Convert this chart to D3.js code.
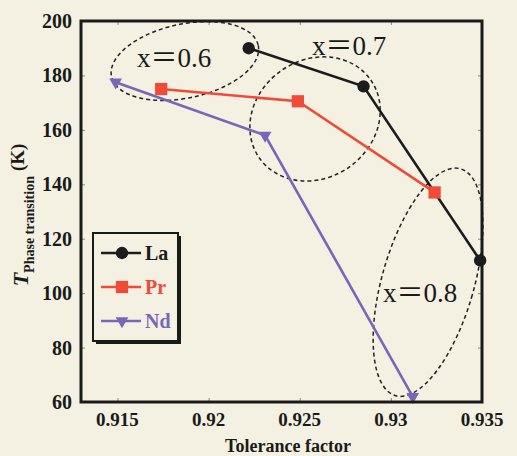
<!DOCTYPE html>
<html><head><meta charset="utf-8">
<script src="https://cdn.jsdelivr.net/npm/d3@7"></script>
<style>body{margin:0;background:#f4f0e2;}svg{display:block;}</style>
</head><body>
<script>
const xTicks = [0.915, 0.92, 0.925, 0.93, 0.935];
const xTickLabels = ["0.915", "0.92", "0.925", "0.93", "0.935"];
const yTicks = [60, 80, 100, 120, 140, 160, 180, 200];
const laX = [0.9222, 0.9285, 0.9349];
const laY = [190, 176, 112];
const prX = [0.9174, 0.9249, 0.9324];
const prY = [175, 170.5, 137];
const ndX = [0.9149, 0.9231, 0.9312];
const ndY = [177.5, 158, 62];
const seriesNames = ["La", "Pr", "Nd"];
const annotLabels = ["x\uFF1D0.6", "x\uFF1D0.7", "x\uFF1D0.8"];
const annotCx = [0.9187, 0.92584, 0.93204];
const annotCy = [185.3, 164, 104];
const annotTx = [0.91607, 0.92567, 0.92957];
const annotTy = [183.1, 187.5, 96.7];

const W = 517, H = 456;
const m = {l: 81, r: 35, t: 21, b: 54};
const svg = d3.select("body").append("svg").attr("width", W).attr("height", H);
svg.append("rect").attr("width", W).attr("height", H).attr("fill", "#f4f0e2");

const x = d3.scaleLinear().domain([0.913, 0.935]).range([m.l, W - m.r]);
const y = d3.scaleLinear().domain([60, 200]).range([H - m.b, m.t]);

const serif = "'Liberation Serif','Times New Roman',serif";

// ticks inward on all sides
const g = svg.append("g");
g.append("g").attr("transform", `translate(0,${y(60)})`)
  .call(d3.axisBottom(x).tickValues(xTicks).tickSize(-4).tickFormat(""))
  .call(s => s.select(".domain").remove()).selectAll("line").attr("stroke", "#888");
g.append("g").attr("transform", `translate(0,${y(200)})`)
  .call(d3.axisTop(x).tickValues(xTicks).tickSize(-4).tickFormat(""))
  .call(s => s.select(".domain").remove()).selectAll("line").attr("stroke", "#888");
g.append("g").attr("transform", `translate(${x(0.913)},0)`)
  .call(d3.axisLeft(y).tickValues(yTicks).tickSize(-4).tickFormat(""))
  .call(s => s.select(".domain").remove()).selectAll("line").attr("stroke", "#888");
g.append("g").attr("transform", `translate(${x(0.935)},0)`)
  .call(d3.axisRight(y).tickValues(yTicks).tickSize(-4).tickFormat(""))
  .call(s => s.select(".domain").remove()).selectAll("line").attr("stroke", "#888");

// tick labels
svg.selectAll(".xl").data(xTicks).enter().append("text")
  .attr("x", d => x(d)).attr("y", y(60) + 24)
  .attr("text-anchor", "middle").attr("font-family", serif).attr("font-weight", "bold")
  .attr("font-size", 19).attr("fill", "#1a1a1a").text((d, i) => xTickLabels[i]);
svg.selectAll(".yl").data(yTicks).enter().append("text")
  .attr("x", x(0.913) - 9).attr("y", d => y(d) + 7)
  .attr("text-anchor", "end").attr("font-family", serif).attr("font-weight", "bold")
  .attr("font-size", 20).attr("fill", "#1a1a1a").text(d => d);

// axis titles
svg.append("text").attr("x", 288).attr("y", 452).attr("text-anchor", "middle")
  .attr("font-family", serif).attr("font-weight", "bold").attr("font-size", 18)
  .attr("fill", "#1a1a1a").text("Tolerance factor");
const yt = svg.append("text").attr("transform", "translate(28,215) rotate(-90)")
  .attr("text-anchor", "middle").attr("font-family", serif).attr("font-weight", "bold")
  .attr("fill", "#1a1a1a");
yt.append("tspan").attr("font-style", "italic").attr("font-size", 22).text("T");
yt.append("tspan").attr("font-size", 14).attr("dy", 6).text("Phase transition");
yt.append("tspan").attr("font-size", 19).attr("dy", -10).attr("dx", 5).text("(K)");

// annotation ellipses
const ellR = [[75, 37, -12], [68, 59, -35], [46, 118, 16]];
annotLabels.forEach((lab, i) => {
  const cx = x(annotCx[i]), cy = y(annotCy[i]);
  svg.append("ellipse").attr("cx", 0).attr("cy", 0)
    .attr("rx", ellR[i][0]).attr("ry", ellR[i][1])
    .attr("transform", `translate(${cx},${cy}) rotate(${ellR[i][2]})`)
    .attr("fill", "none").attr("stroke", "#222").attr("stroke-width", 1.5)
    .attr("stroke-dasharray", "4,3");
});

// series
const series = [
  {name: seriesNames[0], xs: laX, ys: laY, color: "#1c1c1c", sym: d3.symbolCircle, size: 120, rot: 0},
  {name: seriesNames[1], xs: prX, ys: prY, color: "#f04a38", sym: d3.symbolSquare, size: 150, rot: 0},
  {name: seriesNames[2], xs: ndX, ys: ndY, color: "#7867b8", sym: d3.symbolTriangle, size: 70, rot: 180}
];
const line = d3.line().x(d => x(d[0])).y(d => y(d[1]));
series.forEach(s => {
  const pts = s.xs.map((v, i) => [v, s.ys[i]]);
  svg.append("path").datum(pts).attr("d", line).attr("fill", "none")
    .attr("stroke", s.color).attr("stroke-width", 2.6);
  svg.selectAll(null).data(pts).enter().append("path")
    .attr("d", d3.symbol().type(s.sym).size(s.size))
    .attr("transform", d => `translate(${x(d[0])},${y(d[1])}) rotate(${s.rot})`)
    .attr("fill", s.color);
});

// annotation texts
annotLabels.forEach((lab, i) => {
  const t = svg.append("text").attr("x", x(annotTx[i])).attr("y", y(annotTy[i]))
    .attr("font-family", serif).attr("font-size", 27).attr("fill", "#1a1a1a");
  t.append("tspan").text(lab[0]);
  t.append("tspan").attr("font-family", "'Noto Sans CJK SC'").attr("font-size", 27).text(lab[1]);
  t.append("tspan").text(lab.slice(2));
});

// frame
svg.append("rect").attr("x", x(0.913)).attr("y", y(200))
  .attr("width", x(0.935) - x(0.913)).attr("height", y(60) - y(200))
  .attr("fill", "none").attr("stroke", "#1a1a1a").attr("stroke-width", 3);

// legend
const lg = svg.append("g").attr("transform", "translate(93,233)");
lg.append("rect").attr("x", 3).attr("y", 3).attr("width", 85).attr("height", 108).attr("fill", "#1a1a1a");
lg.append("rect").attr("x", 0).attr("y", 0).attr("width", 85).attr("height", 108)
  .attr("fill", "#f4f0e2").attr("stroke", "#1a1a1a").attr("stroke-width", 2);
series.forEach((s, i) => {
  const yy = 20 + i * 34;
  lg.append("line").attr("x1", 8).attr("x2", 48).attr("y1", yy).attr("y2", yy)
    .attr("stroke", s.color).attr("stroke-width", 2.6);
  lg.append("path").attr("d", d3.symbol().type(s.sym).size(s.size))
    .attr("transform", `translate(29,${yy}) rotate(${s.rot})`).attr("fill", s.color);
  lg.append("text").attr("x", 52).attr("y", yy + 7).attr("font-family", serif)
    .attr("font-weight", "bold").attr("font-size", 20).attr("fill", s.color).text(s.name);
});
</script>
</body></html>
